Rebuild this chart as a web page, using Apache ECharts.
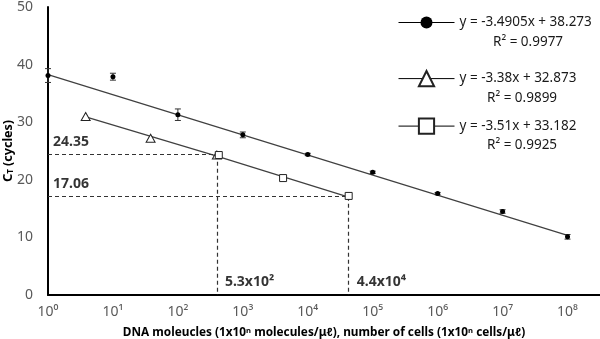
<!DOCTYPE html>
<html><head><meta charset="utf-8">
<script src="https://cdn.jsdelivr.net/npm/echarts@6/dist/echarts.min.js"></script>
<style>html,body{margin:0;padding:0;background:#fff}#c{width:600px;height:339px}</style>
</head><body><div id="c"></div>
<script>
// exponents n of 10^n on the x axis
var xTicks = [0,1,2,3,4,5,6,7,8];
var xTickLabels = ['10⁰','10¹','10²','10³','10⁴','10⁵','10⁶','10⁷','10⁸'];
var yTicks = [0,10,20,30,40,50];

// series 1: filled circles (DNA molecules)
var circX = [0,1,2,3,4,5,6,7,8];
var circY = [38.1,37.9,31.3,27.8,24.4,21.3,17.6,14.5,10.1];
var circErr = [1.2,0.6,1.0,0.5,0.2,0.2,0.2,0.3,0.4];
var circFitX = [0,8];
var circFitY = [38.27,10.35];

// series 2: triangles
var triX = [0.58,1.58,2.6];
var triY = [31.0,27.2,24.3];
var triFitX = [0.62,2.6];
var triFitY = [30.8,24.1];

// series 3: squares
var sqX = [2.63,3.62,4.63];
var sqY = [24.3,20.3,17.2];
var sqFitX = [2.6,4.63];
var sqFitY = [24.1,17.0];

// legend texts
var eqText = ['y = -3.4905x + 38.273','y = -3.38x + 32.873','y = -3.51x + 33.182'];
var r2Text = ['R² = 0.9977','R² = 0.9899','R² = 0.9925'];

// cut-off annotations
var cutY = [24.35,17.06];
var cutX = [2.6,4.63];
var cutYLabels = ['24.35','17.06'];
var cutXLabels = ['5.3x10²','4.4x10⁴'];

function pairs(xs, ys){ return xs.map(function(x,i){ return [x, ys[i]]; }); }

var FONT = 'Noto Sans';
var chart = echarts.init(document.getElementById('c'), null, {renderer:'canvas'});

var markData = [];
for (var i=0;i<cutY.length;i++){
  markData.push([{coord:[0,cutY[i]]},{coord:[cutX[i],cutY[i]]}]);
  markData.push([{coord:[cutX[i],cutY[i]]},{coord:[cutX[i],0]}]);
}
var annotData = [];
for (var j=0;j<cutY.length;j++){
  annotData.push({value:[0,cutY[j]], label:{formatter:cutYLabels[j], offset:[0,-13]}});
  annotData.push({value:[cutX[j],0], label:{formatter:cutXLabels[j], offset:[3,-13]}});
}

var legendBase = function(name, top, h){
  return {
    data:[name], left:398, top:top, padding:0, itemWidth:56, itemHeight:h,
    selectedMode:false,
    lineStyle:{color:'#000', width:1, opacity:1},
    textStyle:{fontFamily:FONT, fontSize:13.5, color:'#1a1a1a'},
    formatter:function(n){ return eqText[['s1','s2','s3'].indexOf(n)]; }
  };
};
var r2Style = {fontFamily:FONT, fontSize:13.5, fill:'#1a1a1a'};

var option = {
  animation:false,
  backgroundColor:'#fff',
  grid:{left:48, right:0, top:7, bottom:44, containLabel:false, outerBoundsMode:'none'},
  legend:[legendBase('s1',15.5,15), legendBase('s2',70,19), legendBase('s3',117.5,19)],
  xAxis:{
    type:'value', min:0, max:8.5, interval:1,
    axisLine:{lineStyle:{color:'#000', width:2}},
    axisTick:{show:false}, splitLine:{show:false},
    axisLabel:{margin:10, color:'#595959', fontFamily:FONT, fontSize:14, showMaxLabel:false,
      formatter:function(v){ var k = xTicks.indexOf(v); return k>=0 ? xTickLabels[k] : ''; }},
    name:'DNA moleucles (1x10ⁿ molecules/μℓ), number of cells (1x10ⁿ cells/μℓ)',
    nameLocation:'middle', nameGap:32, nameMoveOverlap:false,
    nameTextStyle:{fontFamily:FONT, fontSize:11.8, fontWeight:'bold', color:'#000'}
  },
  yAxis:{
    type:'value', min:0, max:50, interval:10,
    axisLine:{show:true, onZero:false, lineStyle:{color:'#000', width:2}},
    axisTick:{show:false}, splitLine:{show:false},
    axisLabel:{margin:15, color:'#595959', fontFamily:FONT, fontSize:14,
      formatter:function(v){ return yTicks.indexOf(v)>=0 ? String(v) : ''; }},
    name:'{c|C}{t|T}{n| (cycles)}', nameLocation:'middle', nameGap:33, nameMoveOverlap:false,
    nameTextStyle:{fontFamily:FONT, fontWeight:'bold', color:'#000',
      rich:{c:{fontSize:13, fontWeight:'bold', fontFamily:FONT},
            t:{fontSize:8, fontWeight:'bold', fontFamily:FONT, padding:[5,0,0,0]},
            n:{fontSize:12.5, fontWeight:'bold', fontFamily:FONT}}}
  },
  graphic:[
    {type:'text', left:493, top:35, style:Object.assign({text:r2Text[0]}, r2Style)},
    {type:'text', left:487, top:91, style:Object.assign({text:r2Text[1]}, r2Style)},
    {type:'text', left:487, top:138, style:Object.assign({text:r2Text[2]}, r2Style)}
  ],
  series:[
    {name:'fit1', type:'line', data:pairs(circFitX,circFitY), symbol:'none', z:2,
      lineStyle:{color:'#404040', width:1.2}},
    {name:'fit2', type:'line', data:pairs(triFitX,triFitY), symbol:'none', z:2,
      lineStyle:{color:'#404040', width:1.2}},
    {name:'fit3', type:'line', data:pairs(sqFitX,sqFitY), symbol:'none', z:2,
      lineStyle:{color:'#404040', width:1.2}},
    {name:'err', type:'custom', z:3,
      data:circX.map(function(x,i){ return [x, circY[i]-circErr[i], circY[i]+circErr[i]]; }),
      renderItem:function(params, api){
        var lo = api.coord([api.value(0), api.value(1)]);
        var hi = api.coord([api.value(0), api.value(2)]);
        var w = 3;
        var st = {stroke:'#333', lineWidth:1};
        return {type:'group', children:[
          {type:'line', shape:{x1:lo[0],y1:lo[1],x2:hi[0],y2:hi[1]}, style:st},
          {type:'line', shape:{x1:lo[0]-w,y1:lo[1],x2:lo[0]+w,y2:lo[1]}, style:st},
          {type:'line', shape:{x1:hi[0]-w,y1:hi[1],x2:hi[0]+w,y2:hi[1]}, style:st}
        ]};
      }},
    {name:'s1', type:'line', data:pairs(circX,circY), symbol:'circle', symbolSize:5, z:4,
      lineStyle:{opacity:0}, itemStyle:{color:'#000', borderColor:'#000', borderWidth:0}},
    {name:'s2', type:'line', data:pairs(triX,triY), symbol:'triangle', symbolSize:[9,8], z:4,
      lineStyle:{opacity:0}, itemStyle:{color:'#fff', borderColor:'#222', borderWidth:1}},
    {name:'s3', type:'line', data:pairs(sqX,sqY), symbol:'rect', symbolSize:7, z:5,
      lineStyle:{opacity:0}, itemStyle:{color:'#fff', borderColor:'#222', borderWidth:1}},
    {name:'annot', type:'scatter', data:annotData, symbolSize:0.1, z:6,
      itemStyle:{color:'transparent'},
      label:{show:true, position:'right', distance:5, fontFamily:FONT, fontSize:14, fontWeight:'bold', color:'#000'},
      markLine:{silent:true, symbol:'none', animation:false,
        label:{show:false},
        lineStyle:{type:[4,3], color:'#333', width:1.2},
        data:markData}}
  ]
};
chart.setOption(option);
</script></body></html>
